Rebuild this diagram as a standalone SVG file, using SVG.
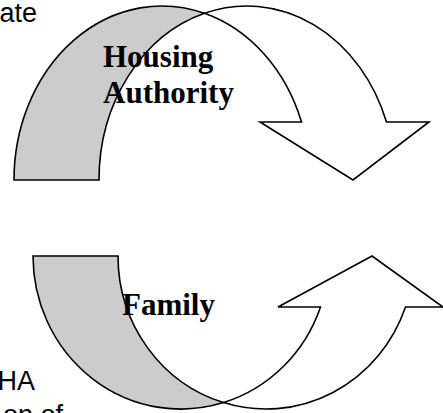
<svg xmlns="http://www.w3.org/2000/svg" width="443" height="413" viewBox="0 0 443 413">
<style>
.sh{stroke:#000;stroke-width:1.6;stroke-linejoin:miter}
.g{fill:#CCCCCC}
.w{fill:#FFFFFF}
.lbl{font-family:"Liberation Serif","Times New Roman",serif;font-weight:bold;font-size:31px;fill:#000}
.side{font-family:"Liberation Sans",Arial,sans-serif;font-size:27px;fill:#000}
</style>
<rect width="443" height="413" fill="#FFFFFF"/>
<g id="side-text">
<text class="side" x="37" y="21.5" text-anchor="end">ate</text>
<text class="side" x="35" y="390" text-anchor="end">HA</text>
<text class="side" x="63" y="424" text-anchor="end">on of</text>
</g>
<g id="housing-authority">
<path class="sh g" d="M14,180 A148,174 0 0,1 204.5,13.3 A148,174 0 0,0 99,180 Z"/>
<path class="sh w" d="M204.5,13.3 A148,174 0 0,1 386.5,122 L429,122 L353,180 L260,122 L301.5,122 A148,174 0 0,0 204.5,13.3 Z"/>
<text class="lbl" x="103" y="67">Housing</text>
<text class="lbl" x="103" y="103">Authority</text>
</g>
<g id="family">
<path class="sh g" d="M33,256 A148,153 0 0,0 223.5,402.6 A148,153 0 0,1 118,256 Z"/>
<path class="sh w" d="M223.5,402.6 A148,153 0 0,0 405.5,307 L443,307 L372,256 L278,307 L320.5,307 A148,153 0 0,1 223.5,402.6 Z"/>
<text class="lbl" x="122" y="315">Family</text>
</g>
<g id="connectors"/>
</svg>
